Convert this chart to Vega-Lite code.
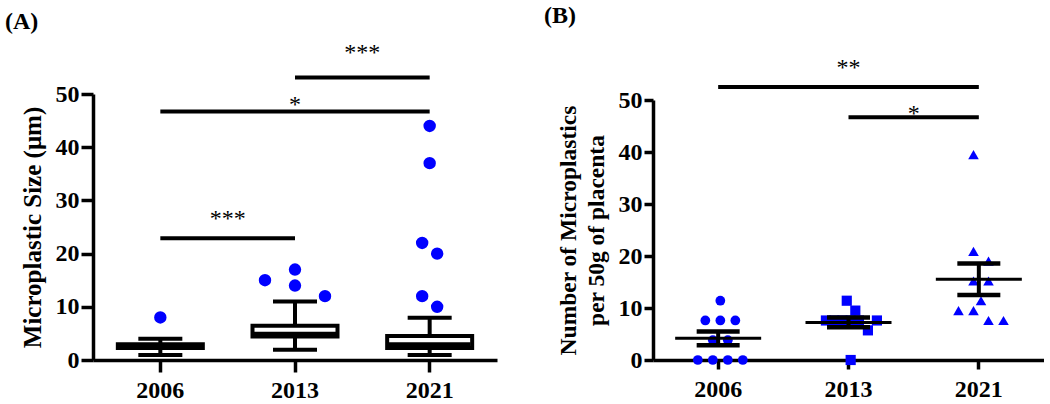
{
  "$schema": "https://vega.github.io/schema/vega-lite/v6.json",
  "background": "white",
  "padding": {"left": 4, "top": 4, "right": 0, "bottom": 0},
  "bounds": "flush",
  "spacing": 156,
  "config": {
    "view": {"stroke": null},
    "font": "Liberation Serif",
    "axis": {
      "labelFont": "Liberation Serif", "labelFontWeight": "bold", "labelFontSize": 24, "labelColor": "black",
      "titleFont": "Liberation Serif", "titleFontWeight": "bold", "titleFontSize": 24, "titleColor": "black",
      "domainColor": "black", "tickColor": "black", "domainWidth": 3.5, "tickWidth": 3.5, "grid": false
    },
    "title": {"font": "Liberation Serif", "fontWeight": "bold", "fontSize": 24, "color": "black", "anchor": "start", "frame": "bounds"}
  },
  "datasets": {
    "boxA": [
      {"year": "2006", "lo": 0.95, "q1": 2.25, "med": 2.6, "q3": 2.95, "hi": 4.0},
      {"year": "2013", "lo": 1.95, "q1": 4.4, "med": 4.95, "q3": 6.45, "hi": 11.0},
      {"year": "2021", "lo": 0.95, "q1": 2.25, "med": 2.95, "q3": 4.5, "hi": 7.95}
    ],
    "outA": [
      {"year": "2006", "size": 8, "slot": 0},
      {"year": "2013", "size": 15, "slot": -2},
      {"year": "2013", "size": 17, "slot": 0},
      {"year": "2013", "size": 14, "slot": 0},
      {"year": "2013", "size": 12, "slot": 2},
      {"year": "2021", "size": 44, "slot": 0},
      {"year": "2021", "size": 37, "slot": 0},
      {"year": "2021", "size": 22, "slot": -0.5},
      {"year": "2021", "size": 20, "slot": 0.5},
      {"year": "2021", "size": 12, "slot": -0.5},
      {"year": "2021", "size": 10, "slot": 0.5}
    ],
    "sigBarsA": [
      {"from": "2013", "to": "2021", "y": 53.1},
      {"from": "2006", "to": "2021", "y": 46.7},
      {"from": "2006", "to": "2013", "y": 22.9}
    ],
    "sigTextA": [
      {"label": "***", "x": "2013", "ty": 56.4, "pos": "edge"},
      {"label": "*", "x": "2013", "ty": 46.7, "pos": "mid"},
      {"label": "***", "x": "2006", "ty": 25.2, "pos": "edge"}
    ],
    "pointsB": [
      {"year": "2006", "count": 0, "slot": -1.5},
      {"year": "2006", "count": 0, "slot": -0.5},
      {"year": "2006", "count": 0, "slot": 0.5},
      {"year": "2006", "count": 0, "slot": 1.5},
      {"year": "2006", "count": 3.8, "slot": -0.5},
      {"year": "2006", "count": 3.8, "slot": 0.5},
      {"year": "2006", "count": 7.6, "slot": -1},
      {"year": "2006", "count": 7.6, "slot": 0},
      {"year": "2006", "count": 7.6, "slot": 1},
      {"year": "2006", "count": 11.4, "slot": 0},
      {"year": "2013", "count": 0, "slot": 0},
      {"year": "2013", "count": 5.7, "slot": 1.15},
      {"year": "2013", "count": 7.6, "slot": -1.65},
      {"year": "2013", "count": 7.6, "slot": -1.1},
      {"year": "2013", "count": 7.6, "slot": -0.55},
      {"year": "2013", "count": 7.6, "slot": 0},
      {"year": "2013", "count": 7.6, "slot": 0.55},
      {"year": "2013", "count": 7.6, "slot": 1.75},
      {"year": "2013", "count": 9.5, "slot": 0.31},
      {"year": "2013", "count": 11.4, "slot": -0.26},
      {"year": "2021", "count": 7.6, "slot": 0.5},
      {"year": "2021", "count": 7.6, "slot": 1.5},
      {"year": "2021", "count": 9.5, "slot": -1.5},
      {"year": "2021", "count": 9.5, "slot": -0.5},
      {"year": "2021", "count": 11.4, "slot": 0},
      {"year": "2021", "count": 15.2, "slot": -0.5},
      {"year": "2021", "count": 15.2, "slot": 0.5},
      {"year": "2021", "count": 19.0, "slot": 0.5},
      {"year": "2021", "count": 20.9, "slot": -0.5},
      {"year": "2021", "count": 39.5, "slot": -0.5}
    ],
    "sigBarsB": [
      {"from": "2006", "to": "2021", "y": 52.5},
      {"from": "2013", "to": "2021", "y": 46.7}
    ],
    "sigTextB": [
      {"label": "**", "x": "2013", "ty": 54.8, "pos": "mid"},
      {"label": "*", "x": "2013", "ty": 46.0, "pos": "edge"}
    ]
  },
  "hconcat": [
    {
      "width": 404,
      "height": 266,
      "title": {"text": "(A)", "dx": -15, "offset": 7},
      "layer": [
        {
          "data": {"name": "boxA"},
          "mark": {"type": "rule", "color": "black", "strokeWidth": 4},
          "encoding": {
            "x": {"field": "year", "type": "nominal", "title": null,
              "scale": {"type": "band", "domain": ["2006", "2013", "2021"], "paddingInner": 0, "paddingOuter": 0},
              "axis": {"labelAngle": 0, "tickSize": 12, "labelPadding": 6}},
            "y": {"field": "lo", "type": "quantitative", "title": "Microplastic Size (μm)",
              "scale": {"domain": [0, 50], "nice": false},
              "axis": {"values": [0, 10, 20, 30, 40, 50], "tickSize": 12, "labelPadding": 2, "titlePadding": 10, "titleFontSize": 25}},
            "y2": {"field": "hi"}
          }
        },
        {
          "data": {"name": "boxA"},
          "mark": {"type": "tick", "color": "black", "size": 44, "thickness": 4, "opacity": 1},
          "encoding": {
            "x": {"field": "year", "type": "nominal", "title": null},
            "y": {"field": "lo", "type": "quantitative", "title": "Microplastic Size (μm)"}
          }
        },
        {
          "data": {"name": "boxA"},
          "mark": {"type": "tick", "color": "black", "size": 44, "thickness": 4, "opacity": 1},
          "encoding": {
            "x": {"field": "year", "type": "nominal", "title": null},
            "y": {"field": "hi", "type": "quantitative", "title": "Microplastic Size (μm)"}
          }
        },
        {
          "data": {"name": "boxA"},
          "mark": {"type": "bar", "fill": "white", "stroke": "black", "strokeWidth": 4, "size": 85},
          "encoding": {
            "x": {"field": "year", "type": "nominal", "title": null},
            "y": {"field": "q1", "type": "quantitative", "title": "Microplastic Size (μm)"},
            "y2": {"field": "q3"}
          }
        },
        {
          "data": {"name": "boxA"},
          "mark": {"type": "tick", "color": "black", "size": 82, "thickness": 4, "opacity": 1},
          "encoding": {
            "x": {"field": "year", "type": "nominal", "title": null},
            "y": {"field": "med", "type": "quantitative", "title": "Microplastic Size (μm)"}
          }
        },
        {
          "data": {"name": "outA"},
          "mark": {"type": "point", "filled": true, "shape": "circle", "color": "#0000ff", "size": 154, "opacity": 1},
          "encoding": {
            "x": {"field": "year", "type": "nominal", "title": null},
            "xOffset": {"field": "slot", "type": "quantitative", "scale": {"domain": [-2, 2], "range": [37.33, 97.33]}},
            "y": {"field": "size", "type": "quantitative", "title": "Microplastic Size (μm)"}
          }
        },
        {
          "data": {"name": "sigBarsA"},
          "mark": {"type": "rule", "color": "black", "strokeWidth": 4},
          "encoding": {
            "x": {"field": "from", "type": "nominal", "title": null},
            "x2": {"field": "to"},
            "y": {"field": "y", "type": "quantitative", "title": "Microplastic Size (μm)"}
          }
        },
        {
          "data": {"name": "sigTextA"},
          "transform": [{"filter": "datum.pos === 'edge'"}],
          "mark": {"type": "text", "font": "Liberation Serif", "fontSize": 24, "align": "center", "baseline": "alphabetic", "color": "black"},
          "encoding": {
            "x": {"field": "x", "type": "nominal", "title": null, "bandPosition": 1},
            "y": {"field": "ty", "type": "quantitative", "title": "Microplastic Size (μm)"},
            "text": {"field": "label"}
          }
        },
        {
          "data": {"name": "sigTextA"},
          "transform": [{"filter": "datum.pos === 'mid'"}],
          "mark": {"type": "text", "font": "Liberation Serif", "fontSize": 24, "align": "center", "baseline": "alphabetic", "color": "black"},
          "encoding": {
            "x": {"field": "x", "type": "nominal", "title": null, "bandPosition": 0.5},
            "y": {"field": "ty", "type": "quantitative", "title": "Microplastic Size (μm)"},
            "text": {"field": "label"}
          }
        }
      ]
    },
    {
      "width": 391,
      "height": 266,
      "title": {"text": "(B)", "dx": -12, "offset": 28},
      "layer": [
        {
          "data": {"name": "pointsB"},
          "mark": {"type": "point", "filled": true, "color": "#0000ff", "opacity": 1},
          "encoding": {
            "x": {"field": "year", "type": "nominal", "title": null,
              "scale": {"type": "band", "domain": ["2006", "2013", "2021"], "paddingInner": 0, "paddingOuter": 0},
              "axis": {"labelAngle": 0, "tickSize": 9, "labelPadding": 8}},
            "xOffset": {"field": "slot", "type": "quantitative", "scale": {"domain": [-2, 2], "range": [21.97, 108.37]}},
            "y": {"field": "count", "type": "quantitative", "title": ["Number of Microplastics", "per 50g of placenta"],
              "scale": {"domain": [0, 50], "nice": false, "range": [266, 6]},
              "axis": {"values": [0, 10, 20, 30, 40, 50], "tickSize": 9, "labelPadding": 2, "titlePadding": 10, "titleLineHeight": 28, "titleFontSize": 23.5}},
            "shape": {"field": "year", "type": "nominal", "scale": {"domain": ["2006", "2013", "2021"], "range": ["circle", "square", "triangle-up"]}, "legend": null},
            "size": {"field": "year", "type": "ordinal", "scale": {"domain": ["2006", "2013", "2021"], "range": [95, 112, 125]}, "legend": null}
          }
        },
        {
          "data": {"name": "pointsB"},
          "mark": {"type": "tick", "color": "black", "size": 86, "thickness": 3, "opacity": 1},
          "encoding": {
            "x": {"field": "year", "type": "nominal", "title": null},
            "y": {"aggregate": "mean", "field": "count", "type": "quantitative", "title": ["Number of Microplastics", "per 50g of placenta"]}
          }
        },
        {
          "data": {"name": "pointsB"},
          "mark": {"type": "errorbar", "extent": "stderr", "color": "black",
            "rule": {"strokeWidth": 4, "color": "black"},
            "ticks": {"size": 43, "thickness": 4.5, "color": "black", "opacity": 1}},
          "encoding": {
            "x": {"field": "year", "type": "nominal", "title": null},
            "y": {"field": "count", "type": "quantitative", "title": ["Number of Microplastics", "per 50g of placenta"]}
          }
        },
        {
          "data": {"name": "sigBarsB"},
          "mark": {"type": "rule", "color": "black", "strokeWidth": 4},
          "encoding": {
            "x": {"field": "from", "type": "nominal", "title": null},
            "x2": {"field": "to"},
            "y": {"field": "y", "type": "quantitative", "title": ["Number of Microplastics", "per 50g of placenta"]}
          }
        },
        {
          "data": {"name": "sigTextB"},
          "transform": [{"filter": "datum.pos === 'edge'"}],
          "mark": {"type": "text", "font": "Liberation Serif", "fontSize": 24, "align": "center", "baseline": "alphabetic", "color": "black"},
          "encoding": {
            "x": {"field": "x", "type": "nominal", "title": null, "bandPosition": 1},
            "y": {"field": "ty", "type": "quantitative", "title": ["Number of Microplastics", "per 50g of placenta"]},
            "text": {"field": "label"}
          }
        },
        {
          "data": {"name": "sigTextB"},
          "transform": [{"filter": "datum.pos === 'mid'"}],
          "mark": {"type": "text", "font": "Liberation Serif", "fontSize": 24, "align": "center", "baseline": "alphabetic", "color": "black"},
          "encoding": {
            "x": {"field": "x", "type": "nominal", "title": null, "bandPosition": 0.5},
            "y": {"field": "ty", "type": "quantitative", "title": ["Number of Microplastics", "per 50g of placenta"]},
            "text": {"field": "label"}
          }
        }
      ]
    }
  ]
}
